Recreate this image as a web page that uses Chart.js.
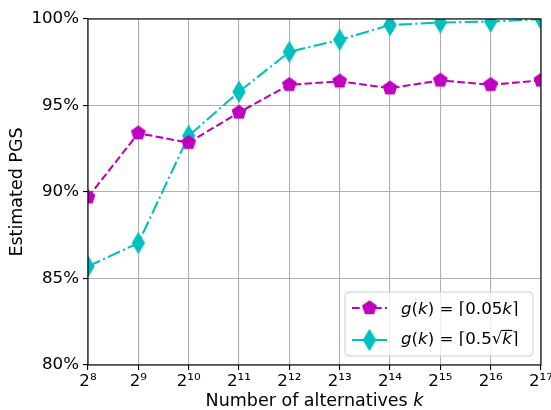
<!DOCTYPE html>
<html>
<head>
<meta charset="utf-8">
<script src="https://cdn.jsdelivr.net/npm/chart.js@4"></script>
<style>
  html, body { margin: 0; padding: 0; background: #ffffff; }
</style>
</head>
<body>
<canvas id="pgsChart" width="551" height="410"></canvas>
<script>
// data (x axis is log2 of k)
var exponents = [8, 9, 10, 11, 12, 13, 14, 15, 16, 17];
var pgsLinear = [89.7, 93.4, 92.85, 94.6, 96.2, 96.4, 96.0, 96.45, 96.2, 96.45];
var pgsSqrt = [85.7, 87.05, 93.25, 95.8, 98.1, 98.8, 99.65, 99.8, 99.85, 100.0];
var yTicks = [80, 85, 90, 95, 100];

var FS = 16.67;
var TITLE_FS = 17.5;
var FONT = '"DejaVu Sans", sans-serif';
var MAGENTA = '#bf00bf';
var CYAN = '#00bfbf';
var dashLinear = [7.7, 3.3];
var dashSqrt = [13.3, 3.3, 2.1, 3.3];

var SUP = '⁰¹²³⁴⁵⁶⁷⁸⁹';
function pow2Label(e) {
    return '2' + String(e).split('').map(function(d) { return SUP[+d]; }).join('');
}

function makeMarker(kind, color) {
    var c = document.createElement('canvas');
    var w = kind === 'p' ? 18 : 16, h = kind === 'p' ? 18 : 24;
    c.width = w; c.height = h;
    var g = c.getContext('2d');
    g.translate(w / 2, h / 2);
    g.beginPath();
    if (kind === 'p') {
        for (var i = 0; i < 5; i++) {
            var a = -Math.PI / 2 + i * 2 * Math.PI / 5;
            g.lineTo(6.95 * Math.cos(a), 6.95 * Math.sin(a));
        }
    } else {
        g.moveTo(0, -9.8); g.lineTo(5.9, 0); g.lineTo(0, 9.8); g.lineTo(-5.9, 0);
    }
    g.closePath();
    g.fillStyle = color;
    g.fill();
    g.lineWidth = 1.39;
    g.strokeStyle = color;
    g.stroke();
    return c;
}

var pentagon = makeMarker('p', MAGENTA);
var thinDiamond = makeMarker('d', CYAN);

function drawRich(ctx, parts, x, y, size) {
    ctx.textBaseline = 'alphabetic';
    ctx.textAlign = 'left';
    parts.forEach(function(p) {
        ctx.font = (p.i ? 'italic ' : '') + size + 'px ' + FONT;
        var w = ctx.measureText(p.t).width;
        ctx.fillText(p.t, x, y);
        if (p.over) {
            ctx.save();
            ctx.lineWidth = 1.2;
            ctx.beginPath();
            ctx.moveTo(x - 0.5, y - 0.8 * size);
            ctx.lineTo(x + w + 0.5, y - 0.8 * size);
            ctx.stroke();
            ctx.restore();
        }
        x += w;
    });
    return x;
}

var decor = {
    id: 'decor',
    afterDatasetsDraw: function(chart) {
        var a = chart.chartArea, ctx = chart.ctx;
        ctx.save();
        ctx.strokeStyle = '#000000';
        ctx.lineWidth = 1.1;
        ctx.strokeRect(a.left, a.top, a.right - a.left, a.bottom - a.top);
        ctx.restore();
    },
    afterDraw: function(chart) {
        var ctx = chart.ctx, a = chart.chartArea;
        ctx.save();
        // legend box
        var bx = 345, by = 292, bw = 188, bh = 64, r = 4;
        ctx.beginPath();
        ctx.moveTo(bx + r, by);
        ctx.arcTo(bx + bw, by, bx + bw, by + bh, r);
        ctx.arcTo(bx + bw, by + bh, bx, by + bh, r);
        ctx.arcTo(bx, by + bh, bx, by, r);
        ctx.arcTo(bx, by, bx + bw, by, r);
        ctx.closePath();
        ctx.fillStyle = 'rgba(255,255,255,0.8)';
        ctx.fill();
        ctx.strokeStyle = '#cccccc';
        ctx.lineWidth = 1;
        ctx.stroke();

        var rows = [
            { y: 308, base: 313.8, color: MAGENTA, dash: dashLinear, marker: pentagon,
              parts: [{t: 'g', i: true}, {t: '('}, {t: 'k', i: true}, {t: ') = ⌈0.05'}, {t: 'k', i: true}, {t: '⌉'}] },
            { y: 340, base: 343.8, color: CYAN, dash: dashSqrt, marker: thinDiamond,
              parts: [{t: 'g', i: true}, {t: '('}, {t: 'k', i: true}, {t: ') = ⌈0.5√'}, {t: 'k', i: true, over: true}, {t: '⌉'}] }
        ];
        rows.forEach(function(row) {
            ctx.strokeStyle = row.color;
            ctx.lineWidth = 2.08;
            ctx.setLineDash(row.dash);
            ctx.beginPath();
            ctx.moveTo(352, row.y);
            ctx.lineTo(387, row.y);
            ctx.stroke();
            ctx.setLineDash([]);
            ctx.drawImage(row.marker, 369.5 - row.marker.width / 2, row.y - row.marker.height / 2);
            ctx.fillStyle = '#000000';
            ctx.strokeStyle = '#000000';
            drawRich(ctx, row.parts, 401, row.base, FS);
        });

        // x axis title with italic k
        var parts = [{t: 'Number of alternatives '}, {t: 'k', i: true}];
        var total = 0;
        parts.forEach(function(p) {
            ctx.font = (p.i ? 'italic ' : '') + TITLE_FS + 'px ' + FONT;
            total += ctx.measureText(p.t).width;
        });
        ctx.fillStyle = '#000000';
        drawRich(ctx, parts, (a.left + a.right) / 2 - total / 2, 405.5, TITLE_FS);
        ctx.restore();
    }
};

var ctx = document.getElementById('pgsChart').getContext('2d');
var pgsChart = new Chart(ctx, {
    type: 'line',
    data: {
        labels: exponents.map(pow2Label),
        datasets: [{
            label: 'g(k) = ⌈0.05k⌉',
            data: pgsLinear,
            borderColor: MAGENTA,
            backgroundColor: MAGENTA,
            borderWidth: 2.08,
            borderDash: dashLinear,
            pointStyle: pentagon,
            pointRadius: 7,
            pointHoverRadius: 7,
            tension: 0,
            fill: false,
            clip: 0
        }, {
            label: 'g(k) = ⌈0.5√k⌉',
            data: pgsSqrt,
            borderColor: CYAN,
            backgroundColor: CYAN,
            borderWidth: 2.08,
            borderDash: dashSqrt,
            pointStyle: thinDiamond,
            pointRadius: 7,
            pointHoverRadius: 7,
            tension: 0,
            fill: false,
            clip: 0
        }]
    },
    options: {
        responsive: false,
        animation: false,
        layout: { padding: { top: 19, right: 10, left: 0, bottom: 0 } },
        plugins: {
            legend: { display: false },
            tooltip: { enabled: false }
        },
        scales: {
            x: {
                offset: false,
                grid: { color: '#b0b0b0', lineWidth: 1.1, tickColor: '#000000', tickLength: 5, tickWidth: 1.1 },
                border: { display: false },
                ticks: {
                    color: '#000000', font: { family: FONT, size: FS }, padding: 2,
                    maxRotation: 0, autoSkip: false
                },
                afterFit: function(s) { s.height = 45; s.paddingLeft = 0; s.paddingRight = 0; }
            },
            y: {
                min: 80,
                max: 100,
                afterBuildTicks: function(s) { s.ticks = yTicks.map(function(v) { return { value: v }; }); },
                grid: { color: '#b0b0b0', lineWidth: 1.1, tickColor: '#000000', tickLength: 5, tickWidth: 1.1 },
                border: { display: false },
                ticks: {
                    color: '#000000', font: { family: FONT, size: FS }, padding: 4,
                    callback: function(v) { return v + '%'; }
                },
                title: {
                    display: true, text: 'Estimated PGS', color: '#000000',
                    font: { family: FONT, size: TITLE_FS }, padding: { top: 7, bottom: 0 }
                },
                afterFit: function(s) { s.width = 88; s.paddingTop = 0; s.paddingBottom = 0; }
            }
        }
    },
    plugins: [decor]
});
</script>
</body>
</html>
